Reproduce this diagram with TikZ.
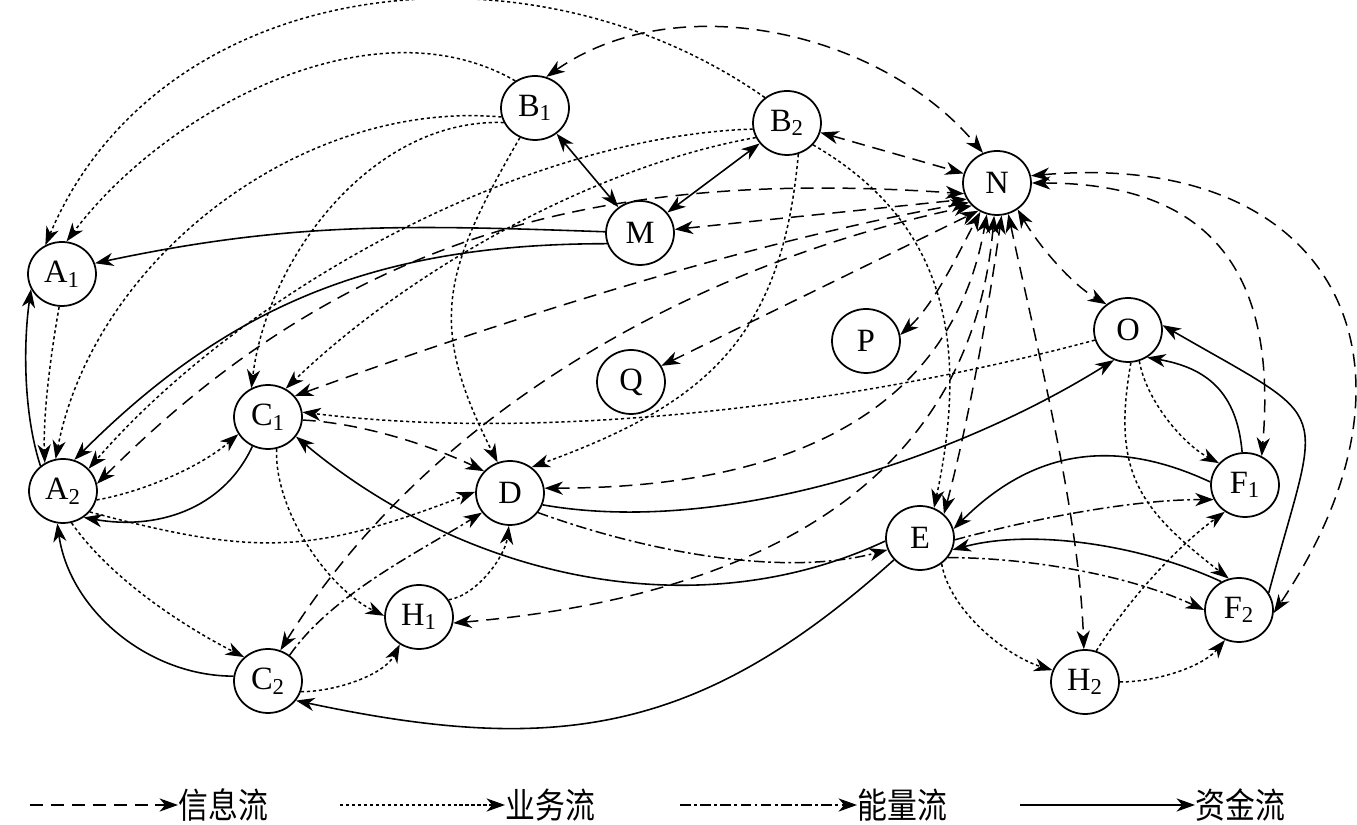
\documentclass[tikz,border=0pt]{standalone}
\usepackage{fontspec}
\setmainfont{Liberation Serif}
\newfontfamily\cjk{Noto Sans CJK SC}
\usetikzlibrary{arrows.meta,shapes.geometric}

\begin{document}
\begin{tikzpicture}[x=0.02cm,y=0.02cm,>={Stealth[length=10.5pt,width=7.5pt,inset=3.2pt]},
  ent/.style={draw,ellipse,line width=1pt,minimum width=1.36cm,minimum height=1.28cm,inner sep=0pt,font=\fontsize{18.5}{20}\selectfont},
  info/.style={line width=0.85pt,dash pattern=on 7.4pt off 4.5pt},
  biz/.style={line width=0.85pt,dash pattern=on 1.8pt off 1.6pt},
  energy/.style={line width=0.85pt,dash pattern=on 6pt off 2pt on 1.5pt off 2pt},
  money/.style={line width=0.9pt},
  legtext/.style={inner sep=0pt,anchor=west,font=\cjk\fontsize{20}{22}\selectfont}]
\useasboundingbox (0,0) rectangle (1357,825);
% entities
\node[ent] (a1) at (62,551) {A\textsubscript{1}};
\node[ent] (a2) at (63,334) {A\textsubscript{2}};
\node[ent] (b1) at (535,717) {B\textsubscript{1}};
\node[ent] (b2) at (787,702) {B\textsubscript{2}};
\node[ent] (m) at (640,592) {M};
\node[ent] (n) at (997,642) {N};
\node[ent] (p) at (866,484) {P};
\node[ent] (q) at (631,443) {Q};
\node[ent] (o) at (1128,495) {O};
\node[ent] (c1) at (268,408) {C\textsubscript{1}};
\node[ent] (d) at (510,332) {D};
\node[ent] (e) at (920,287) {E};
\node[ent] (f1) at (1245,340) {F\textsubscript{1}};
\node[ent] (f2) at (1239,215) {F\textsubscript{2}};
\node[ent] (h1) at (419,208) {H\textsubscript{1}};
\node[ent] (c2) at (268,144) {C\textsubscript{2}};
\node[ent] (h2) at (1085,143) {H\textsubscript{2}};
% money flow
\draw[money,<->] (b1) -- (m);
\draw[money,<->] (b2) -- (m);
\draw[money,->] (m.178) to[out=178,in=12] (a1.18);
\draw[money,->] (m.198) to[out=180,in=45] (a2.70);
\draw[money,->] (a2.132) to[out=108,in=262,looseness=0.8] (a1.206);
\draw[money,->] (c1.242) to[out=245,in=-10] (a2.-52);
\draw[money,->] (c2.172) to[out=180,in=-82,looseness=0.95] (a2.-100);
\draw[money,->] (e.185) to[out=205,in=-40,looseness=0.92] (c1.-35);
\draw[money,->] (e.220) to[out=222,in=-12,looseness=1.1] (c2.-35);
\draw[money,->] (d.-20) to[out=-10,in=212,looseness=0.8] (o.245);
\draw[money,->] (f1.95) to[out=95,in=-10,looseness=1.15] (o.-55);
\draw[money,->] (f2.30) to[out=75,in=-30,looseness=1.8] (o.8);
\draw[money,->] (f1.175) to[out=155,in=45,looseness=1.07] (e.15);
\draw[money,->] (f2.122) to[out=155,in=15,looseness=0.8] (e.-20);
% energy flow
\draw[energy,->] (c2.50) to[out=55,in=212,looseness=0.8] (d.215);
\draw[energy,->] (d.-35) to[out=-20,in=195,looseness=0.8] (e.200);
\draw[energy,->] (e.-3) to[out=15,in=180,looseness=0.8] (f1.205);
\draw[energy,->] (e.-35) to[out=0,in=155,looseness=0.8] (f2.180);
% business flow
\draw[biz,->] (a1.-95) to[out=-100,in=92,looseness=0.8] (a2.123);
\draw[biz,->] (b2.131) to[out=145,in=67,looseness=1.02] (a1.120);
\draw[biz,->] (b1.126) to[out=150,in=53,looseness=0.88] (a1.82);
\draw[biz,->] (b1.195) to[out=175,in=79,looseness=0.92] (a2.103);
\draw[biz,->] (b1.205) to[out=178,in=83,looseness=0.92] (c1.120);
\draw[biz,->] (b2.190) to[out=182,in=49,looseness=0.8] (a2.41);
\draw[biz,->] (b2.205) to[out=190,in=44,looseness=0.8] (c1.58);
\draw[biz,->] (b1.243) to[out=240,in=117,looseness=1.22] (d.112);
\draw[biz,->] (b2.-70) to[out=-95,in=20,looseness=1.15] (d.50);
\draw[biz,->] (b2.-40) to[out=-30,in=78,looseness=1.07] (e.65);
\draw[biz,->] (a2.-15) to[out=10,in=221,looseness=0.8] (c1.210);
\draw[biz,->] (a2.-38) to[out=-15,in=201,looseness=1.15] (d.178);
\draw[biz,->] (o.197) to[out=195,in=-7,looseness=0.8] (c1.8);
\draw[biz,->] (c1.-75) to[out=-92,in=154,looseness=0.8] (h1.178);
\draw[biz,->] (h1.30) to[out=10,in=-97,looseness=0.8] (d.-92);
\draw[biz,->] (c2.-18) to[out=0,in=243,looseness=0.8] (h1.235);
\draw[biz,->] (a2.-75) to[out=-55,in=153,looseness=0.8] (c2.135);
\draw[biz,->] (o.-70) to[out=-80,in=152,looseness=0.8] (f1.140);
\draw[biz,->] (o.-85) to[out=-100,in=142,looseness=1.22] (f2.108);
\draw[biz,->] (e.-50) to[out=-80,in=163,looseness=0.8] (h2.160);
\draw[biz,->] (h2.70) to[out=58,in=216,looseness=0.8] (f1.233);
\draw[biz,->] (h2.0) to[out=0,in=230,looseness=0.8] (f2.245);
% information flow
\draw[info,<->] (b1.70) to[out=35,in=130,looseness=0.92] (n.115);
\draw[info,<->] (b2) -- (n);
\draw[info,<->] (m) -- (n.208);
\draw[info,<->] (a2.12) to[out=45,in=176] (n.198);
\draw[info,<->] (c1.38) to[out=20,in=190,looseness=0.8] (n.215);
\draw[info,->] (c1.-5) to[out=-3,in=154,looseness=0.8] (d.140);
\draw[info,<->] (d.8) to[out=0,in=-100,looseness=1.07] (n.-108);
\draw[info,<->] (h1.-10) to[out=5,in=-95,looseness=1.07] (n.-95);
\draw[info,<->] (c2.68) to[out=58,in=192,looseness=0.88] (n.222);
\draw[info,<->] (q.28) -- (n.236);
\draw[info,<->] (p.10) to[out=42,in=-118,looseness=0.8] (n.-120);
\draw[info,<->] (e.45) to[out=75,in=-98,looseness=0.8] (n.-82);
\draw[info,<->] (n.-70) to[out=-78,in=92,looseness=0.8] (h2.92);
\draw[info,<->] (n.-52) to[out=-60,in=150,looseness=0.8] (o.130);
\draw[info,<->] (n.0) to[out=0,in=85,looseness=1.3] (f1.60);
\draw[info,<->] (n.12) to[out=5,in=56,looseness=1.55] (f2.-5);
% legend
\coordinate (kinfo) at (30,20);
\coordinate (kbiz) at (340,20);
\coordinate (kenergy) at (680,20);
\coordinate (kmoney) at (1020,20);
\node[legtext] (tinfo) at (178,20) {\scalebox{0.85}[1]{信息流}};
\node[legtext] (tbiz) at (505,20) {\scalebox{0.85}[1]{业务流}};
\node[legtext] (tenergy) at (857,20) {\scalebox{0.85}[1]{能量流}};
\node[legtext] (tmoney) at (1195,20) {\scalebox{0.85}[1]{资金流}};
\draw[info,->] (kinfo) -- (tinfo.west);
\draw[biz,->] (kbiz) -- (tbiz.west);
\draw[energy,->] (kenergy) -- (tenergy.west);
\draw[money,->] (kmoney) -- (tmoney.west);
\end{tikzpicture}
\end{document}
